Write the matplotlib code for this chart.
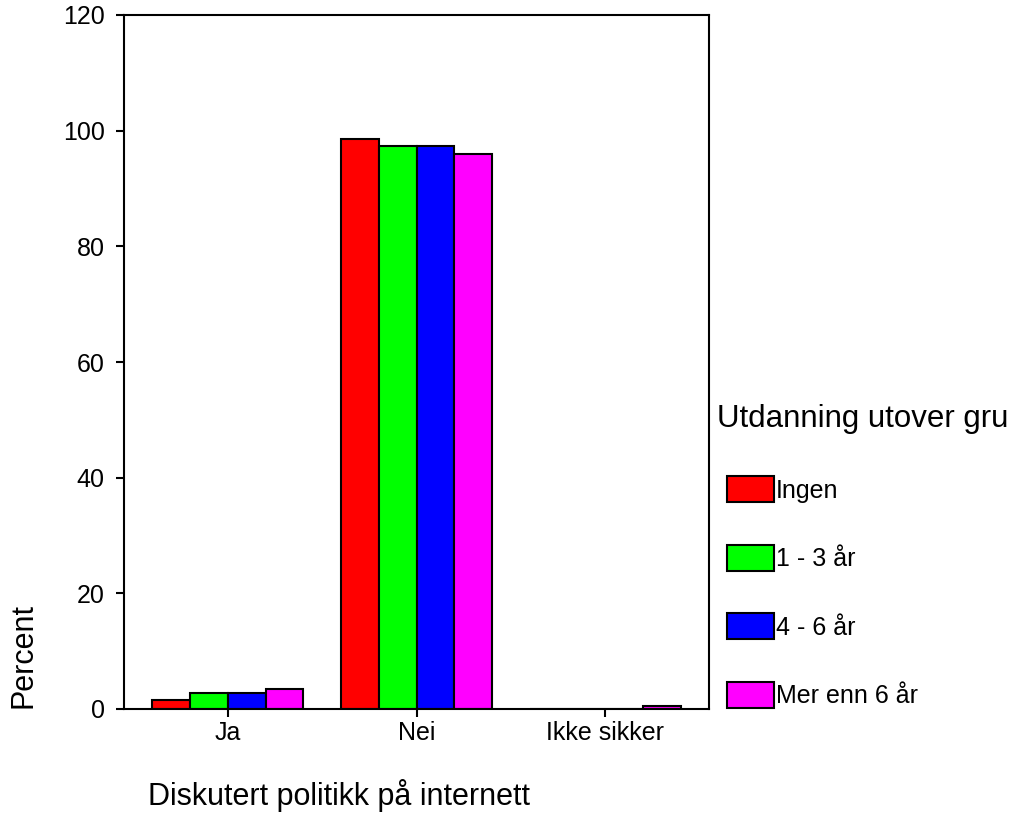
import numpy as np
import matplotlib.pyplot as plt

plt.rcParams['font.family'] = ['Liberation Sans', 'DejaVu Sans']

# kategorier og verdier (prosent)
categories = ['Ja', 'Nei', 'Ikke sikker']
groups = ['Ingen', '1 - 3 år', '4 - 6 år', 'Mer enn 6 år']
values = {
    'Ingen': [1.5, 98.5, 0.0],
    '1 - 3 år': [2.7, 97.3, 0.0],
    '4 - 6 år': [2.7, 97.3, 0.0],
    'Mer enn 6 år': [3.5, 96.0, 0.5],
}
colors = ['#ff0000', '#00ff00', '#0000ff', '#ff00ff']
yticks = [0, 20, 40, 60, 80, 100, 120]
legend_title = 'Utdanning utover gru'  # slik den står (avkuttet) i originalen

W, H = 1022, 831
fig = plt.figure(figsize=(W / 100, H / 100), dpi=100)
ax = fig.add_axes([124 / W, 1 - 709 / H, (709 - 124) / W, (709 - 15) / H])

x = np.arange(len(categories))
width = 0.2
for i, g in enumerate(groups):
    ax.bar(x + (i - 1.5) * width, values[g], width, color=colors[i],
           edgecolor='black', linewidth=1.5, label=g)

ax.set_xlim(-0.55, 2.55)
ax.set_ylim(0, 120)
ax.set_xticks(x)
ax.set_xticklabels(categories, fontsize=18)
ax.set_yticks(yticks)
ax.set_yticklabels([str(t) for t in yticks], fontsize=18)
ax.tick_params(axis='y', direction='out', length=6, width=1.5, pad=8)
ax.tick_params(axis='x', direction='out', length=6, width=1.5, pad=3)
for s in ax.spines.values():
    s.set_linewidth(1.5)

fig.text(24 / W, 1 - 656 / H, 'Percent', rotation=90, ha='center', va='center', fontsize=22)
fig.text(148 / W, 1 - 795 / H, 'Diskutert politikk på internett', ha='left', va='center', fontsize=22)

fig.text(717 / W, 1 - 427 / H, legend_title, ha='left', va='baseline', fontsize=22.5)
leg = fig.legend(loc='upper left', bbox_to_anchor=(727 / W, 1 - 476 / H),
                 fontsize=18, frameon=False, borderpad=0, borderaxespad=0,
                 handlelength=1.88, handleheight=1.24,
                 handletextpad=0.08, labelspacing=1.68)

fig.savefig('out.png', dpi=100)
